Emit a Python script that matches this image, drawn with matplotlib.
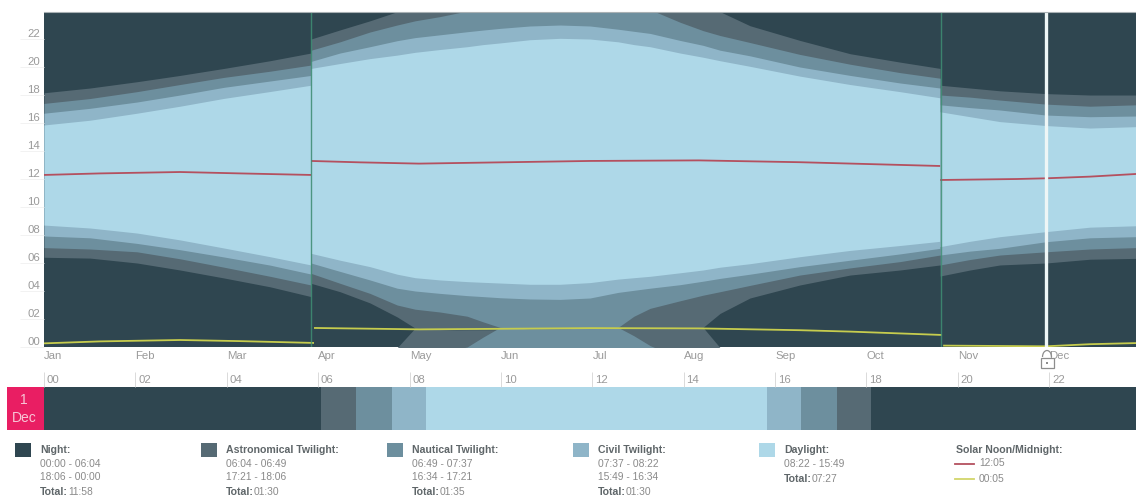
import numpy as np
import matplotlib
matplotlib.use('Agg')
import matplotlib.pyplot as plt
from matplotlib.patches import Rectangle, Arc

plt.rcParams['font.family'] = ['Liberation Sans', 'DejaVu Sans']

# colours of the bands
c_night = '#2f4650'
c_astro = '#566a74'
c_naut = '#6d8f9e'
c_civil = '#8fb5c8'
c_day = '#aed8e8'

month_labels = ['Jan', 'Feb', 'Mar', 'Apr', 'May', 'Jun', 'Jul', 'Aug', 'Sep', 'Oct', 'Nov', 'Dec']
hour_labels = ['00', '02', '04', '06', '08', '10', '12', '14', '16', '18', '20', '22']
y_labels = ['00', '02', '04', '06', '08', '10', '12', '14', '16', '18', '20', '22']

# winter part, up to the clock change
days_a = [0, 15.4, 31.1, 45.5, 60.2, 75.6, 89.3]
astro_dawn_a = [6.41, 6.35, 6.0, 5.5, 4.93, 4.3, 3.6]
naut_dawn_a = [7.1, 7.0, 6.8, 6.3, 5.7, 5.05, 4.43]
civil_dawn_a = [7.93, 7.8, 7.4, 6.95, 6.43, 5.85, 5.21]
sunrise_a = [8.71, 8.5, 8.14, 7.65, 7.07, 6.45, 5.86]
sunset_a = [15.86, 16.2, 16.7, 17.2, 17.76, 18.25, 18.7]
civil_dusk_a = [16.7, 17.05, 17.5, 18.0, 18.55, 19.0, 19.4]
naut_dusk_a = [17.4, 17.75, 18.24, 18.75, 19.26, 19.7, 20.14]
astro_dusk_a = [18.16, 18.5, 18.95, 19.4, 19.9, 20.45, 21.0]

# summer part, dusk values above 24 run on past midnight
days_b = [89.3, 99.0, 109.0, 118.1, 124.1, 132.4, 141.5, 146.8, 152.5, 162.5, 172.6, 182.6,
          192.0, 197.3, 202.7, 212.7, 220.4, 226.1, 236.1, 252.8, 269.6, 286.3, 299.7]
astro_dawn_b = [4.55, 3.95, 3.15, 2.15, 1.35, 1.25, 1.2, 1.2, 1.2, 1.2, 1.25, 1.3,
                1.35, 1.35, 1.35, 1.4, 1.4, 2.4, 3.5, 4.43, 5.14, 5.5, 5.86]
naut_dawn_b = [5.26, 4.55, 3.83, 3.0, 2.7, 2.5, 2.2, 1.8, 1.4, 1.3, 1.3, 1.35,
               1.4, 2.2, 2.76, 3.3, 3.7, 3.95, 4.4, 5.14, 5.65, 6.1, 6.57]
civil_dawn_b = [6.0, 5.4, 4.79, 4.2, 4.0, 3.83, 3.67, 3.6, 3.52, 3.43, 3.4, 3.5,
                3.9, 4.05, 4.2, 4.45, 4.7, 4.9, 5.2, 5.74, 6.2, 6.65, 7.05]
sunrise_b = [6.69, 6.2, 5.74, 5.2, 4.95, 4.79, 4.67, 4.62, 4.57, 4.48, 4.48, 4.6,
             4.85, 4.95, 5.05, 5.3, 5.5, 5.7, 5.95, 6.45, 6.9, 7.25, 7.55]
sunset_b = [19.9, 20.25, 20.6, 20.85, 21.05, 21.25, 21.45, 21.6, 21.72, 21.95, 22.05, 22.0,
            21.8, 21.6, 21.45, 21.0, 20.7, 20.45, 20.05, 19.35, 18.75, 18.24, 17.8]
civil_dusk_b = [20.4, 21.0, 21.45, 21.88, 22.1, 22.3, 22.52, 22.64, 22.76, 22.93, 23.0, 22.93,
                22.7, 22.55, 22.4, 21.9, 21.55, 21.2, 20.8, 20.0, 19.4, 18.86, 18.5]
naut_dusk_b = [21.2, 21.8, 22.5, 23.0, 23.3, 23.6, 24.0, 24.7, 25.4, 25.3, 25.3, 25.35,
               25.4, 24.8, 24.1, 23.2, 22.6, 22.25, 21.75, 20.9, 20.2, 19.6, 19.2]
astro_dusk_b = [22.0, 22.65, 23.3, 23.95, 25.35, 25.25, 25.2, 25.2, 25.2, 25.2, 25.25, 25.3,
                25.35, 25.35, 25.35, 25.4, 25.4, 23.95, 22.95, 21.9, 20.95, 20.35, 19.9]

# winter again, after the change back
days_c = [299.7, 309.7, 319.7, 335.1, 349.8, 365.2]
astro_dawn_c = [5.07, 5.5, 5.86, 6.0, 6.27, 6.33]
naut_dawn_c = [5.86, 6.25, 6.57, 6.8, 7.0, 7.1]
civil_dawn_c = [6.57, 6.85, 7.05, 7.52, 7.8, 7.88]
sunrise_c = [7.17, 7.55, 7.88, 8.24, 8.56, 8.66]
sunset_c = [16.8, 16.45, 16.1, 15.82, 15.64, 15.74]
civil_dusk_c = [17.3, 17.1, 16.93, 16.57, 16.45, 16.5]
naut_dusk_c = [18.0, 17.85, 17.64, 17.35, 17.2, 17.3]
astro_dusk_c = [18.7, 18.5, 18.3, 18.1, 18.0, 18.0]

# solar noon and solar midnight
noon_days = [[0, 18.7, 45.5, 65.6, 89.3],
             [89.3, 105.7, 125.4, 152.5, 182.6, 219, 252.8, 299.7],
             [299.7, 325.4, 335.1, 349.8, 365.2]]
noon_vals = [[12.29, 12.4, 12.5, 12.4, 12.29],
             [13.29, 13.19, 13.1, 13.19, 13.29, 13.33, 13.2, 12.93],
             [11.93, 12.0, 12.05, 12.17, 12.36]]
midnight_days = [[0, 18.7, 45.5, 65.6, 90.3],
                 [90.3, 125.7, 152.5, 182.6, 219, 252.8, 269.6, 300.3],
                 [300.7, 335.1, 349.8, 365.2]]
midnight_vals = [[0.26, 0.4, 0.5, 0.42, 0.29],
                 [1.36, 1.26, 1.3, 1.35, 1.33, 1.2, 1.1, 0.86],
                 [0.1, 0.05, 0.2, 0.28]]

switch_days = [89.3, 299.9]
cursor_day = 335.1

# bar for the selected day, in hours
bar_starts = [0, 6.07, 6.82, 7.62, 8.37, 15.82, 16.57, 17.35, 18.1]
bar_ends = [6.07, 6.82, 7.62, 8.37, 15.82, 16.57, 17.35, 18.1, 24]
bar_colors = [c_night, c_astro, c_naut, c_civil, c_day, c_civil, c_naut, c_astro, c_night]

legend_titles = ['Night:', 'Astronomical Twilight:', 'Nautical Twilight:', 'Civil Twilight:', 'Daylight:']
legend_lines = [['00:00 - 06:04', '18:06 - 00:00'],
                ['06:04 - 06:49', '17:21 - 18:06'],
                ['06:49 - 07:37', '16:34 - 17:21'],
                ['07:37 - 08:22', '15:49 - 16:34'],
                ['08:22 - 15:49']]
legend_totals = ['11:58', '01:30', '01:35', '01:30', '07:27']
legend_colors = [c_night, c_astro, c_naut, c_civil, c_day]
noon_text = '12:05'
midnight_text = '00:05'

W, H = 1136, 497
fig = plt.figure(figsize=(W / 100, H / 100), dpi=100, facecolor='white')

# main chart
ax = fig.add_axes([44 / W, 1 - 347 / H, 1092 / W, 335 / H])
ax.set_facecolor(c_night)
ax.set_xlim(0, 365.2)
ax.set_ylim(0, 23.93)

segments = [
    (days_a, astro_dawn_a, naut_dawn_a, civil_dawn_a, sunrise_a, sunset_a, civil_dusk_a, naut_dusk_a, astro_dusk_a),
    (days_b, astro_dawn_b, naut_dawn_b, civil_dawn_b, sunrise_b, sunset_b, civil_dusk_b, naut_dusk_b, astro_dusk_b),
    (days_c, astro_dawn_c, naut_dawn_c, civil_dawn_c, sunrise_c, sunset_c, civil_dusk_c, naut_dusk_c, astro_dusk_c),
]
for seg in segments:
    d = np.array(seg[0])
    pairs = [(seg[1], seg[8], c_astro), (seg[2], seg[7], c_naut), (seg[3], seg[6], c_civil), (seg[4], seg[5], c_day)]
    for dawn, dusk, col in pairs:
        dusk = np.array(dusk)
        ax.fill_between(d, dawn, dusk, color=col, lw=0)
        # the part of the band that went past midnight
        ax.fill_between(d, -1, dusk - 24, color=col, lw=0)

for dd, vv in zip(noon_days, noon_vals):
    ax.plot(dd, vv, color='#b4505f', lw=1.3, solid_capstyle='butt')
for dd, vv in zip(midnight_days, midnight_vals):
    ax.plot(dd, vv, color='#c6cc4e', lw=1.3, solid_capstyle='butt')

for s in switch_days:
    ax.axvline(s, color='#3f8f74', lw=1, alpha=0.85)
ax.axvline(cursor_day, color='#eef6f6', lw=2.4)

month_pos = np.arange(12) * 30.57
ax.set_xticks(month_pos)
ax.set_xticklabels(month_labels, ha='left', fontsize=8.2, color='#9a9a9a')
ax.tick_params(axis='x', length=0, pad=3)
ax.set_yticks(np.arange(0, 24, 2))
ax.set_yticklabels(y_labels, fontsize=8.2, color='#9a9a9a', va='bottom')
ax.tick_params(axis='y', length=17, width=0.6, color='#f0f0f0', pad=-14)
for side in ['left', 'right', 'bottom']:
    ax.spines[side].set_visible(False)
ax.spines['top'].set_color('#a9b1b4')
ax.spines['top'].set_linewidth(0.8)

# bar for the selected day
ax2 = fig.add_axes([44 / W, 1 - 430 / H, 1092 / W, 43 / H])
ax2.set_xlim(0, 23.9)
ax2.set_ylim(0, 1)
for a, b, col in zip(bar_starts, bar_ends, bar_colors):
    ax2.barh(0.5, b - a, left=a, height=1, color=col, lw=0)
ax2.set_yticks([])
ax2.set_xticks(np.arange(0, 24, 2))
ax2.set_xticklabels([])
ax2.tick_params(axis='x', bottom=False, top=True, length=11, width=0.6, color='#d5d5d5')
for side in ax2.spines:
    ax2.spines[side].set_visible(False)
for h, t in zip(np.arange(0, 24, 2), hour_labels):
    ax2.annotate(t, (h, 1), xytext=(2, 5), textcoords='offset points', fontsize=8.2,
                 color='#9a9a9a', ha='left', va='center', annotation_clip=False)

# overlay in pixel coordinates for the date box, lock and legend
ov = fig.add_axes([0, 0, 1, 1])
ov.set_xlim(0, W)
ov.set_ylim(H, 0)
ov.axis('off')
ov.patch.set_alpha(0)

ov.add_patch(Rectangle((7, 387), 37, 43, color='#e91e63', lw=0))
ov.text(24, 400, '1', color='#f7c6d6', fontsize=10, ha='center', va='center')
ov.text(24, 418, 'Dec', color='#f7c6d6', fontsize=10, ha='center', va='center')

ov.add_patch(Rectangle((1040.5, 358), 13, 9.5, fill=False, ec='#8d8d8d', lw=0.9))
ov.add_patch(Arc((1047, 357), 9, 13, theta1=180, theta2=360, ec='#8d8d8d', lw=0.9))
ov.add_patch(Rectangle((1046, 361.5), 2, 2, color='#8d8d8d', lw=0))

swatch_x = [15, 201, 387, 573, 759]
for i, x in enumerate(swatch_x):
    ov.add_patch(Rectangle((x, 443), 16, 14, color=legend_colors[i], lw=0))
    ov.text(x + 25, 450, legend_titles[i], fontsize=7.6, fontweight='bold', color='#5f6669', va='center')
    y = 464
    for line in legend_lines[i]:
        ov.text(x + 25, y, line, fontsize=7.4, color='#8a8a8a', va='center')
        y += 13
    total_y = 492 if len(legend_lines[i]) == 2 else 479
    ov.text(x + 25, total_y, 'Total:', fontsize=7.6, fontweight='bold', color='#5f6669', va='center')
    ov.text(x + 53, total_y, legend_totals[i], fontsize=7.4, color='#8a8a8a', va='center')

ov.text(956, 450, 'Solar Noon/Midnight:', fontsize=7.6, fontweight='bold', color='#5f6669', va='center')
ov.plot([955, 974], [464, 464], color='#b4505f', lw=1.3)
ov.text(979, 463, noon_text, fontsize=7.4, color='#8a8a8a', va='center')
ov.plot([955, 974], [479, 479], color='#d2d56a', lw=1.3)
ov.text(979, 479, midnight_text, fontsize=7.4, color='#8a8a8a', va='center')

fig.savefig('out.png', dpi=100)
